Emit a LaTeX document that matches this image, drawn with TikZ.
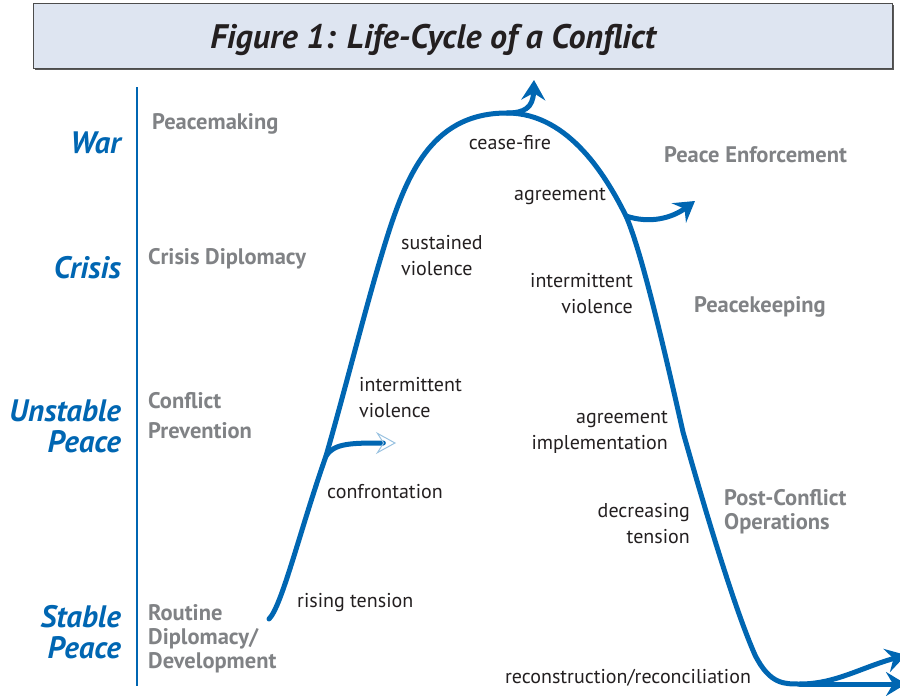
\documentclass[tikz,border=0pt]{standalone}
\usepackage{fontspec}
\setmainfont{PT Sans}
\usetikzlibrary{arrows.meta}
\definecolor{cycleblue}{RGB}{0,102,178}
\definecolor{titlefill}{RGB}{222,229,241}
\definecolor{phasegray}{RGB}{128,130,133}
\definecolor{textdark}{RGB}{35,31,32}

\begin{document}
\begin{tikzpicture}[x=1pt, y=-1pt,
  stage/.style={font=\fontsize{31}{31}\selectfont\bfseries\itshape, text=cycleblue, align=right, anchor=east, inner sep=0pt},
  phase/.style={font=\fontsize{22.5}{24}\selectfont\bfseries, text=phasegray, align=left, anchor=west, inner sep=0pt},
  event/.style={font=\fontsize{20}{26}\selectfont, text=textdark, inner sep=0pt},
  lifeline/.style={line width=5pt, cycleblue, line cap=round},
  branch/.style={-{Stealth[length=20pt,width=24pt,inset=7pt]}}]
\useasboundingbox (0,0) rectangle (900,696);

% title box
\fill[gray!70!black] (35,5) rectangle (894,70);
\draw[fill=titlefill, draw=gray!60!black] (33,3) rectangle (892,68);
\node[font=\fontsize{34}{38}\selectfont\bfseries\itshape, text=textdark] (title) at (433,40) {Figure 1: Life-Cycle of a Conflict};

% axis
\coordinate (axistop) at (137,87);
\coordinate (axisbottom) at (137,686);
\draw[cycleblue, line width=2.5pt] (axistop) -- (axisbottom);

\node[stage] (war) at (121,143) {War};
\node[stage] (crisis) at (121,268) {Crisis};
\node[stage] (unstable) at (121,426) {Unstable\\Peace};
\node[stage] (stable) at (121,632) {Stable\\Peace};

\node[phase] (peacemaking) at (152,124) {Peacemaking};
\node[phase] (diplomacy) at (148,259) {Crisis Diplomacy};
\node[phase] (prevention) at (148,416) {Conflict\\[6pt]Prevention};
\node[phase] (routine) at (148,639) {Routine\\Diplomacy/\\Development};
\node[phase] (enforcement) at (664,155) {Peace Enforcement};
\node[phase] (peacekeeping) at (694,307) {Peacekeeping};
\node[phase] (postconflict) at (724,512) {Post-Conflict\\Operations};

% the curve
\coordinate (start) at (269,619);
\coordinate (conf) at (326,456);
\coordinate (violent) at (381,257);
\coordinate (peak) at (507,113);
\coordinate (agree) at (626,216);
\coordinate (implem) at (683,432);
\coordinate (easing) at (755,655);
\coordinate (trough) at (800,684);
\coordinate (confend) at (396,443);
\coordinate (firetip) at (534,80);
\coordinate (forcetip) at (695,201);
\coordinate (endup) at (906,655);
\coordinate (endflat) at (906,684);

\draw[lifeline] (start) .. controls (282,606) and (300,530) .. (conf)
  .. controls (345,390) and (365,310) .. (violent)
  .. controls (404,180) and (428,113) .. (peak)
  .. controls (570,113) and (608,180) .. (agree)
  .. controls (640,248) and (660,330) .. (implem)
  .. controls (705,510) and (735,610) .. (easing)
  .. controls (770,685) and (785,684) .. (trough);
\draw[lifeline, branch] (trough) -- (endflat);
\draw[lifeline, branch] (trough) .. controls (835,684) and (860,668) .. (endup);
\draw[lifeline, branch] (peak) .. controls (524,113) and (533,108) .. (firetip);
\draw[lifeline, branch] (agree) .. controls (650,224) and (672,218) .. (forcetip);
\draw[lifeline, -{Stealth[open, length=20pt, width=22pt, inset=7pt, line width=1pt, color=cycleblue!40]}] (conf) .. controls (334,443) and (352,443) .. (confend);

\node[event] (ceasefire) at (510,143) {cease-fire};
\node[event] (agreement) at (560,196) {agreement};
\node[event, align=left, anchor=west] (sustained) at (401,256) {sustained\\violence};
\node[event, align=right, anchor=east] (intermright) at (633,294) {intermittent\\violence};
\node[event, align=left, anchor=west] (intermleft) at (359,398) {intermittent\\violence};
\node[event, align=right, anchor=east] (implement) at (668,432) {agreement\\implementation};
\node[event, anchor=west] (confront) at (327,492) {confrontation};
\node[event, align=right, anchor=east] (decreasing) at (690,524) {decreasing\\tension};
\node[event, anchor=west] (rising) at (297,603) {rising tension};
\node[event] (reconstruct) at (628,678) {reconstruction/reconciliation};
\end{tikzpicture}
\end{document}
